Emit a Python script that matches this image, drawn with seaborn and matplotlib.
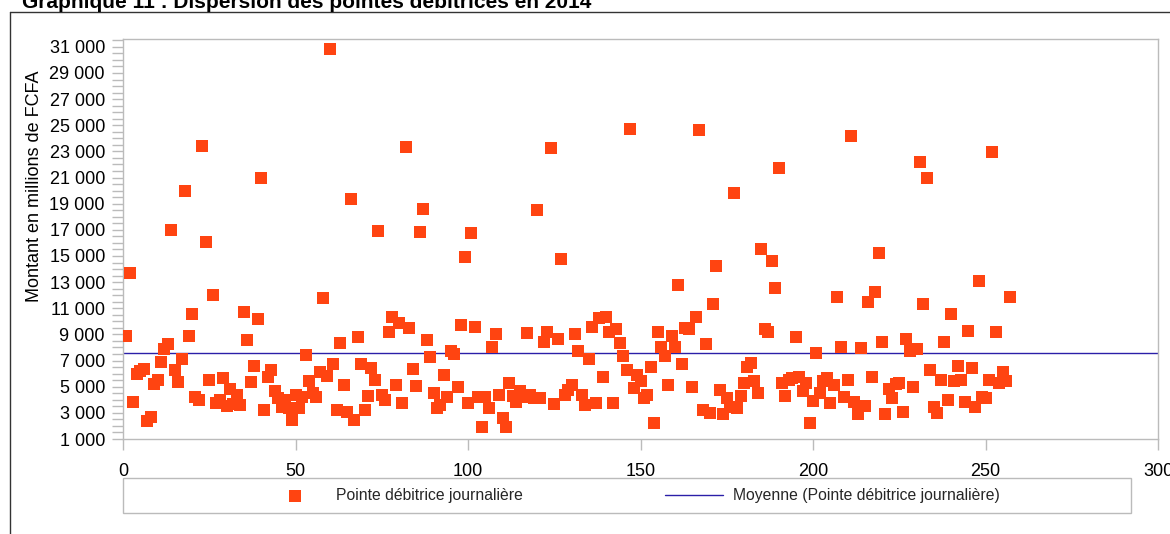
import matplotlib
matplotlib.use("Agg")
import matplotlib.pyplot as plt
import numpy as np
import pandas as pd
import seaborn as sns
from matplotlib.ticker import MultipleLocator, FuncFormatter
from matplotlib.lines import Line2D
from matplotlib.patches import Rectangle

# ---------------- data ----------------
days = list(range(1, 258))
pointe = [
    8900, 13700, 3800, 5950, 6200, 6350, 2400, 2700, 5200, 5550,
    6900, 7900, 8300, 17000, 6250, 5350, 7150, 20000, 8900, 10600,
    4250, 3950, 23400, 16100, 5500, 12050, 3750, 4000, 5650, 3500,
    4800, 3700, 4400, 3600, 10700, 8600, 5350, 6600, 10150, 20950,
    3200, 5750, 6300, 4700, 4100, 3450, 4000, 3350, 2450, 4350,
    3350, 4250, 7450, 5450, 4500, 4250, 6150, 11750, 5850, 30850,
    6700, 3250, 8350, 5150, 3100, 19350, 2450, 8800, 6700, 3200,
    4300, 6400, 5500, 16900, 4350, 4000, 9150, 10350, 5100, 9900,
    3750, 23350, 9500, 6350, 5050, 16850, 18600, 8600, 7300, 4500,
    3400, 3600, 5900, 4200, 7700, 7500, 5000, 9750, 14950, 3750,
    16750, 9600, 4250, 1950, 4250, 3400, 8050, 9000, 4350, 2600,
    1950, 5250, 4300, 3800, 4700, 4200, 9100, 4350, 4100, 18550,
    4150, 8400, 9150, 23250, 3650, 8650, 14750, 4350, 4750, 5150,
    9000, 7750, 4350, 3600, 7150, 9550, 3750, 10250, 5750, 10300,
    9150, 3750, 9400, 8350, 7350, 6300, 24750, 4900, 5900, 5400,
    4100, 4350, 6500, 2200, 9200, 8050, 7350, 5150, 8850, 8000,
    12750, 6750, 9500, 9400, 4950, 10350, 24650, 3200, 8300, 3000,
    11350, 14250, 4750, 2950, 4100, 3450, 19800, 3400, 4300, 5300,
    6500, 6850, 5400, 4550, 15550, 9450, 9150, 14600, 12550, 21750,
    5250, 4300, 5500, 5650, 8800, 5750, 4700, 5250, 2200, 3900,
    7550, 4500, 5400, 5700, 3750, 5150, 11900, 8050, 4250, 5550,
    24200, 3800, 2950, 7950, 3550, 11450, 5750, 12250, 15250, 8450,
    2950, 4800, 4150, 5200, 5250, 3100, 8650, 7700, 4950, 7850,
    22200, 11350, 21000, 6250, 3450, 3000, 5550, 8450, 4000, 10600,
    5400, 6600, 5500, 3850, 9250, 6450, 3450, 13050, 4200, 4100,
    5500, 22950, 9200, 5300, 6100, 5400, 11900,
]
x_ticks = [0, 50, 100, 150, 200, 250, 300]
y_ticks = list(range(1000, 32000, 2000))
title = "Graphique 11 : Dispersion des pointes débitrices en 2014"
y_label = "Montant en millions de FCFA"
serie_label = "Pointe débitrice journalière"
mean_label = "Moyenne (Pointe débitrice journalière)"

# ---------------- style ----------------
sns.set_theme(style="white")
plt.rcParams["font.family"] = ["Liberation Sans", "DejaVu Sans"]

W, H = 1170, 534
fig = plt.figure(figsize=(W / 100, H / 100), dpi=100)
ax = fig.add_axes([123 / W, 1 - 439 / H, (1158 - 123) / W, 400 / H])

df = pd.DataFrame({"jour": days, "pointe": pointe})
sns.scatterplot(data=df, x="jour", y="pointe", marker="s", s=82,
                color="#FF4411", linewidth=0, ax=ax, label=serie_label,
                zorder=3)
moyenne = df["pointe"].mean()
ax.axhline(moyenne, color="#2B1FA8", lw=1.0, label=mean_label, zorder=2)

if ax.get_legend() is not None:
    ax.get_legend().remove()

ax.set_xlim(0, 300)
ax.set_ylim(1000, 31600)
ax.set_xticks(x_ticks)
ax.set_yticks(y_ticks)
ax.yaxis.set_minor_locator(MultipleLocator(500))
ax.yaxis.set_major_formatter(FuncFormatter(lambda v, p: f"{int(v):,}".replace(",", " ")))
ax.set_xlabel("")
ax.set_ylabel(y_label, fontsize=13, color="black")
ax.yaxis.set_label_coords((43 - 123) / (1158 - 123), (439 - 186) / 400)

gray = "#BBBBBB"
for sp in ax.spines.values():
    sp.set_color(gray)
    sp.set_linewidth(1)
ax.tick_params(axis="both", which="both", direction="out", color=gray,
               width=1, length=8, labelsize=13, labelcolor="black",
               bottom=True, left=True)
ax.tick_params(axis="x", pad=9)
ax.tick_params(axis="y", pad=5)
ax.grid(False)

# legend
h, l = ax.get_legend_handles_labels()
yc = 1 - 495.5 / H
leg1 = fig.legend(handles=[h[0]], labels=[l[0]], loc="center left",
                  bbox_to_anchor=(266 / W, yc), frameon=False,
                  handlelength=3.7, handletextpad=0.75, borderpad=0,
                  borderaxespad=0, fontsize=11.3)
leg2 = fig.legend(handles=[h[1]], labels=[l[1]], loc="center left",
                  bbox_to_anchor=(665 / W, yc), frameon=False,
                  handlelength=3.7, handletextpad=0.65, borderpad=0,
                  borderaxespad=0, fontsize=11.3)
fig.add_artist(Rectangle((123 / W, 1 - 513 / H), (1131 - 123) / W, 35 / H,
                         transform=fig.transFigure, fill=False,
                         edgecolor=gray, lw=1))

# outer frame (top and left visible)
fig.add_artist(Line2D([10 / W, 1], [1 - 12 / H, 1 - 12 / H],
                      transform=fig.transFigure, color="#333333", lw=1))
fig.add_artist(Line2D([10 / W, 10 / W], [0, 1 - 12 / H],
                      transform=fig.transFigure, color="#333333", lw=1))

# title (partially clipped at top, as in the reference)
fig.text(22 / W, 1 - 8 / H, title, fontsize=15, fontweight="bold",
         ha="left", va="baseline", color="black")

fig.savefig("out.png", dpi=100)
